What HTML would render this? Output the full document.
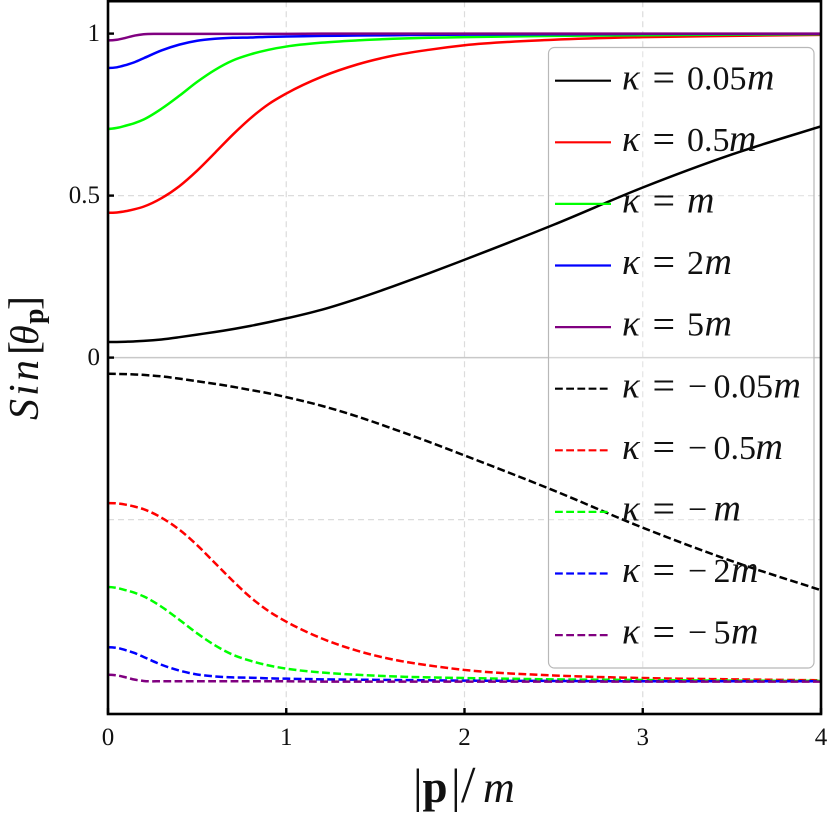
<!DOCTYPE html>
<html lang="en">
<head>
<meta charset="utf-8">
<title>Sin theta vs momentum</title>
<style>
html,body{margin:0;padding:0;background:#fff;}
svg{display:block;}
text{font-family:"Liberation Serif","DejaVu Serif",serif;fill:#111;}
</style>
</head>
<body>
<svg id="chart" xmlns="http://www.w3.org/2000/svg" width="830" height="822" viewBox="0 0 830 822"></svg>
<script>
const pValues = [0,0.05,0.1,0.15,0.2,0.3,0.4,0.5,0.6,0.7,0.8,0.9,1,1.2,1.4,1.6,1.8,2,2.5,3,3.5,4];
const kappaPos005 = [0.048,0.0483,0.049,0.05,0.0515,0.056,0.063,0.071,0.079,0.088,0.098,0.109,0.121,0.148,0.182,0.22,0.26,0.302,0.41,0.525,0.627,0.714];
const kappaPos05 = [0.447,0.448,0.452,0.458,0.466,0.492,0.529,0.577,0.632,0.688,0.739,0.782,0.815,0.867,0.905,0.932,0.95,0.964,0.981,0.989,0.993,0.996];
const kappaPos1 = [0.706,0.709,0.716,0.724,0.735,0.768,0.808,0.851,0.888,0.917,0.936,0.95,0.96,0.972,0.979,0.984,0.987,0.989,0.993,0.995,0.997,0.998];
const kappaPos2 = [0.894,0.896,0.903,0.912,0.924,0.948,0.966,0.978,0.984,0.987,0.988,0.99,0.991,0.993,0.994,0.995,0.996,0.997,0.998,0.999,0.999,0.999];
const kappaPos5 = [0.979,0.981,0.987,0.994,0.998,0.999,0.999,0.999,0.999,0.999,0.999,0.999,0.999,1,1,1,1,1,1,1,1,1];
const kappaNeg005 = [-0.05,-0.0503,-0.051,-0.052,-0.0535,-0.058,-0.065,-0.073,-0.081,-0.09,-0.1,-0.11,-0.122,-0.149,-0.182,-0.22,-0.26,-0.302,-0.41,-0.525,-0.628,-0.718];
const kappaNeg05 = [-0.449,-0.45,-0.454,-0.46,-0.468,-0.494,-0.531,-0.579,-0.634,-0.689,-0.74,-0.782,-0.815,-0.867,-0.905,-0.932,-0.95,-0.964,-0.981,-0.989,-0.993,-0.996];
const kappaNeg1 = [-0.708,-0.711,-0.718,-0.726,-0.737,-0.769,-0.809,-0.851,-0.888,-0.917,-0.936,-0.95,-0.96,-0.972,-0.979,-0.984,-0.987,-0.989,-0.993,-0.995,-0.997,-0.998];
const kappaNeg2 = [-0.894,-0.896,-0.903,-0.912,-0.924,-0.948,-0.966,-0.978,-0.984,-0.987,-0.988,-0.99,-0.991,-0.993,-0.994,-0.995,-0.996,-0.997,-0.998,-0.999,-0.999,-0.999];
const kappaNeg5 = [-0.979,-0.981,-0.987,-0.994,-0.998,-0.999,-0.999,-0.999,-0.999,-0.999,-0.999,-0.999,-0.999,-1,-1,-1,-1,-1,-1,-1,-1,-1];
const seriesValues = [kappaPos005,kappaPos05,kappaPos1,kappaPos2,kappaPos5,kappaNeg005,kappaNeg05,kappaNeg1,kappaNeg2,kappaNeg5];
const seriesNames = ['0.05','0.5','','2','5','\u22120.05','\u22120.5','\u2212','\u22122','\u22125'];
const seriesColors = ['#000000','#ff0000','#00ff00','#0000ff','#800080','#000000','#ff0000','#00ff00','#0000ff','#800080'];
const xTicks = [0,1,2,3,4];
const yTicks = [0,0.5,1];
const yTickLabels = ['0','0.5','1'];
const xGrid = [1,2,3];
const yGrid = [0.5,-0.5];

const svg = document.getElementById('chart');
const NS = 'http://www.w3.org/2000/svg';
const xAt = p => 108 + 178.25 * p;
const yAt = v => 357.6 - 324 * v;
function make(tag, attrs, parent) {
  const el = document.createElementNS(NS, tag);
  for (const k in attrs) el.setAttribute(k, attrs[k]);
  (parent || svg).appendChild(el);
  return el;
}
function smoothPath(xs, ys) {
  const n = xs.length, d = [], m = new Array(n);
  for (let i = 0; i < n - 1; i++) d.push((ys[i+1]-ys[i])/(xs[i+1]-xs[i]));
  m[0] = 0; m[n-1] = d[n-2];
  for (let i = 1; i < n - 1; i++) {
    const a = xs[i]-xs[i-1], b = xs[i+1]-xs[i];
    m[i] = (b*d[i-1]+a*d[i])/(a+b);
  }
  let s = 'M' + xs[0].toFixed(2) + ' ' + ys[0].toFixed(2);
  for (let i = 0; i < n - 1; i++) {
    const h = (xs[i+1]-xs[i])/3;
    s += 'C' + (xs[i]+h).toFixed(2) + ' ' + (ys[i]+m[i]*h).toFixed(2) + ' ' + (xs[i+1]-h).toFixed(2) + ' ' + (ys[i+1]-m[i+1]*h).toFixed(2) + ' ' + xs[i+1].toFixed(2) + ' ' + ys[i+1].toFixed(2);
  }
  return s;
}

make('rect', {x:0,y:0,width:830,height:822,fill:'#ffffff'});

xGrid.forEach(g => {
  const l = make('line', {x1:xAt(g),x2:xAt(g),y1:yAt(1.1),y2:yAt(-1.1),stroke:'#dcdcdc','stroke-width':1.2,'stroke-dasharray':'6 4'});
  
  
});
yGrid.forEach(g => {
  const l = make('line', {x1:xAt(0),x2:xAt(4),y1:yAt(g),y2:yAt(g),stroke:'#dcdcdc','stroke-width':1.2,'stroke-dasharray':'6 4'});
  
  
});
const zeroLine = make('line', {x1:xAt(0),x2:xAt(4),y1:yAt(0),y2:yAt(0),stroke:'#c8c8c8','stroke-width':1.5});



const legendFrame = make('rect', {x:548.5,y:47.5,width:265.5,height:620.5,rx:6,ry:6,fill:'#ffffff','fill-opacity':0.25,stroke:'#b8b8b8','stroke-width':1.2});



seriesValues.forEach((vals, i) => {
  const path = make('path', {
    d: smoothPath(pValues.map(xAt), vals.map(yAt)),
    fill:'none', stroke:seriesColors[i], 'stroke-width':2.5, 'stroke-linejoin':'round',
    'stroke-dasharray': i >= 5 ? '7.8 3.4' : 'none'
  });
  
  
});

seriesNames.forEach((name, i) => {
  const rowY = 80.7 + 61.6 * i;
  const g = make('g', {});
  
  
  make('line', {x1:555,x2:i >= 5 ? 608 : 611,y1:rowY,y2:rowY,stroke:seriesColors[i],'stroke-width':2.2,'stroke-dasharray':i >= 5 ? '7.8 3.4' : 'none'}, g);
  const t = make('text', {y:rowY + 8.6,'font-size':34}, g);
  const base = rowY + 8.6;
  const kappa = make('tspan', {x:622,y:base,'font-style':'italic','font-size':37}, t);
  kappa.textContent = '\u03BA';
  const eq = make('tspan', {x:652.5,y:base + 1.6,'font-size':40}, t);
  eq.textContent = '=';
  const neg = name.charAt(0) === '\u2212';
  let cursor = 687;
  if (neg) {
    const minus = make('tspan', {x:688,y:base,'font-size':34}, t);
    minus.textContent = '\u2212';
    cursor = 713.5;
  }
  const digits = neg ? name.slice(1) : name;
  if (digits) {
    const num = make('tspan', {x:cursor,y:base}, t);
    num.textContent = digits;
    cursor += digits.length === 4 ? 60 : digits.length === 3 ? 42 : 17.5;
  }
  const m = make('tspan', {x:cursor,y:base,'font-style':'italic','font-size':38}, t);
  m.textContent = 'm';
});

xTicks.forEach((tick, i) => {
  const l = make('line', {x1:xAt(tick),x2:xAt(tick),y1:yAt(-1.1),y2:yAt(-1.1)-6,stroke:'#000','stroke-width':2.4});
  
  
  const t = make('text', {x:xAt(tick),y:745,'text-anchor':'middle','font-size':25});
  
  
  t.textContent = String(tick);
});
yTicks.forEach((tick, i) => {
  const l = make('line', {x1:xAt(0),x2:xAt(0)+6,y1:yAt(tick),y2:yAt(tick),stroke:'#000','stroke-width':2.4});
  
  
  const t = make('text', {x:100,y:yAt(tick)+7.4,'text-anchor':'end','font-size':25});
  
  
  t.textContent = yTickLabels[i];
});

const frame = make('rect', {x:xAt(0),y:yAt(1.1),width:xAt(4)-xAt(0),height:yAt(-1.1)-yAt(1.1),fill:'none',stroke:'#000','stroke-width':2.6});



const xTitle = make('text', {y:802,'font-size':43});


[['|',413,48,'normal','normal'],['p',422.5,45,'normal','bold'],['|',451,48,'normal','normal'],['/',461,52,'normal','normal'],['m',483,44,'italic','normal']].forEach(part => {
  const s = make('tspan', {x:part[1],'font-size':part[2],'font-style':part[3],'font-weight':part[4]}, xTitle);
  s.textContent = part[0];
});

const yTitle = make('text', {transform:'translate(38,420) rotate(-90)','font-size':42});


[['S',0,0,42,'italic','normal'],['i',24,0,42,'italic','normal'],['n',39,0,42,'italic','normal'],['[',65,0,42,'normal','normal'],['\u03B8',75,0,40,'italic','normal'],['p',96,5,28,'normal','bold'],[']',110,0,42,'normal','normal']].forEach(part => {
  const s = make('tspan', {x:part[1],y:part[2],'font-size':part[3],'font-style':part[4],'font-weight':part[5]}, yTitle);
  s.textContent = part[0];
});
</script>
</body>
</html>
